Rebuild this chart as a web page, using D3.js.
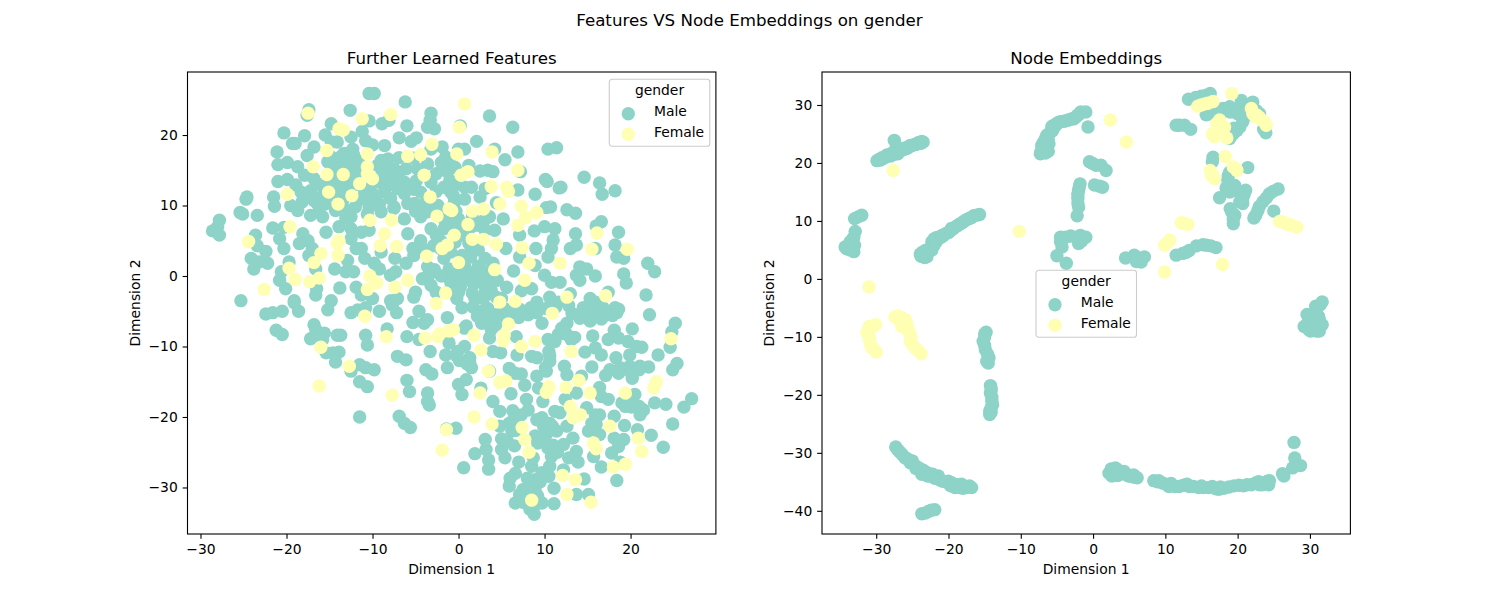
<!DOCTYPE html>
<html><head><meta charset="utf-8">
<script src="https://cdn.jsdelivr.net/npm/d3@7"></script>
<style>html,body{margin:0;background:#fff}svg{display:block}text{font-family:"DejaVu Sans",sans-serif;fill:#000}</style>
</head><body><svg id="c" width="1500" height="600"></svg>
<script>
const figureTitle="Features VS Node Embeddings on gender";
const panelTitles=["Further Learned Features","Node Embeddings"];
const legendTitle="gender";
const categories=["Male","Female"];
const colors=["#8dd3c7","#ffffb3"];
const xLabel="Dimension 1", yLabel="Dimension 2";
const leftXTicks=[-30,-20,-10,0,10,20];
const leftYTicks=[-30,-20,-10,0,10,20];
const rightXTicks=[-30,-20,-10,0,10,20,30];
const rightYTicks=[-40,-30,-20,-10,0,10,20,30];

const leftMale=[[-10.4,25.9],[-9.8,25.9],[-6.2,24.7],[-12.6,23.5],[-17.4,23.6],[-17.6,22.8],[-3.2,23.1],[-3.3,22.1],[-2.8,20.9],[-3.6,21.1],[-10.4,22],[-8.9,21.6],[-8.1,22.1],[-14.8,21.6],[-6,21.3],[-20.3,20.3],[-17.9,19.9],[-15.5,20],[-11.2,20.5],[-19.3,18.8],[-19,18.8],[-6.9,19.6],[-5.5,19.1],[-4.9,19.6],[-12.5,19.7],[-14.1,19],[-14.8,19],[-10.8,19.2],[-10,18.6],[-8.6,18.5],[-16.8,18.3],[-21.1,17.6],[-12.3,18],[-13.3,17.4],[-17.6,17.1],[-3.2,18],[-1.9,18.3],[-1.5,16.9],
[-21,15.8],[-19.9,16.1],[-18.7,15.5],[-21,13.4],[-19.9,13.7],[-18.9,12.9],[-17.9,14.3],[-18.3,11.9],[-16.8,13.8],[-17.2,12.1],[-19.5,10],[-18.7,9.3],[-17.2,8.6],[-16.2,9.8],[-15.8,8.4],[-14.3,9.3],[-12.5,8.4],[-12.5,6.7],[-12.5,5.3],[-13.9,7],[-15.4,6.2],[-10.6,8.8],[-10.4,6.5],[-11.3,6.2],[-9,9.1],[-7.5,9.8],[-5.9,10.3],[-6.3,8.1],[-5.9,6],[-4.4,8.4],[-3.6,9.1],[-4.4,5],[-2.6,5.8],[-1.7,6.7],[-3.2,6.7],
[-14.4,16.2],[-13.3,16.2],[-14.8,14.8],[-13.7,15.2],[-12.5,16.2],[-14.3,13.3],[-12.9,12.9],[-16,12.9],[-15.2,16.2],[-11.7,14.8],[-12.1,12.9],[-11,11.4],[-10.4,10.7],[-11.7,10.7],[-13.3,11],[-14.4,11.4],[-16,11.2],[-16.8,10.7],[-9.2,13.3],[-8.6,11.9],[-7.9,11],[-7.5,9.6],[-9.4,15.7],[-8.2,16.6],[-7.5,15.2],[-6.3,13.3],[-6.1,15.2],[-7.1,12.4],[-6.3,11.7],[-5.1,10.3],[-4.4,11.9],[-3.2,13.3],[-2.6,14.5],[-1.3,14.8],[-1.7,12.6],[-0.9,11.9],[-3.6,15.9],[-4.8,15.2],[-1.5,9.3],[-1.7,8.1],
[-24.6,11.2],[-24.7,10.9],[-21.5,11.2],[-21.4,9.9],[-25.4,9],[-25.1,8.8],[-23.4,8.6],[-27.8,7.9],[-28.6,6.4],[-28,7],[-27.8,5.8],[-21.6,6.8],[-20.3,6.9],[-23.6,5.8],[-20.8,5.3],[-20.3,3.9],[-23.4,4.3],[-22.4,3.5],[-24.1,2.5],[-22.2,1.8],[-23.8,1],[-23.2,2],[-18.1,6],[-17.5,5],[-18.5,4.6],[-17.4,2.9],[-17,3.9],[-19.7,2],[-20.6,0.6],[-20.8,-0.6],[-20.1,-1.8],[-16.6,1],[-16.5,-1.8],[-16.6,-2.7],[-14.4,1],[-13.8,-1.7],[-19.1,-3.5],[-14.8,-3.5],[-25.3,-3.5],[-12.9,2.2],[-13.1,0.6],[-12.2,0.6],[-11.9,-1.6],[-11.3,-2.7],[-10,-3.2],[-11.3,3.9],[-11.9,3.9],[-10.9,2.5],[-9.8,1.8],[-9.2,1],[-9,3.4],[-7.4,2.5],[-6.1,1.8],[-7.9,0.1],[-7.3,0.6],[-5.3,3.9],[-5.2,2.9],[-3.6,1.3],[-4.2,-0.4],[-3.2,-1.3],[-2.6,-2.3],[-1.7,2.5],[-2.1,3.9],[-1.1,1],[-5,-2.3],[-5.2,-3],[-7.9,-3.5],[-7.1,-3.2],[-0.9,-0.9],
[3.6,22.7],[6.3,21.1],[0.2,21.3],[2.1,19.1],[4.2,18],[0.7,18],[0,18],[6.9,17.6],[5.4,16.5],[10.4,18],[11.4,18.2],[1.2,15.7],[2.5,14.9],[3.4,15],[4,14.8],[7.2,14.8],[10.1,13.7],[10.3,13.4],[14.6,14],[11.7,12.5],[11.9,12.6],[16.4,13.2],[16.7,11.6],[18.2,12.1],[8.9,11.6],[6.9,12.2],[0.7,12.6],[1.5,12.6],[3.1,12.4],[2.5,11.2],[0.7,10.9],[4.4,10.4],[-0.4,12.9],[-0.6,11.4],[10.2,9.7],[10.7,9.8],[12.6,9.4],[13.6,8.9],[16.6,7.7],[16,7.1],[18.6,6.2],[13.6,6],[11.2,6.7],[10,7],[8.8,6.4],[7.1,5.8],[11,5.1],[10.8,3.9],[10.4,2.7],[9,3.9],[5.5,3.9],[13,3.9],[13.7,4.4],[15.9,3.9],[18.2,4.4],[18.4,2.7],[19.2,2.5],[22,1.8],[22.8,0.6],[19.2,0.3],[19.5,-1],[21.8,-2.7],[14.1,1.3],[14.9,1],[13.7,0.1],[15.9,0],[14.1,-0.6],[8.9,1.5],[10,0.1],[10.8,-0.9],[11.8,-0.9],[7.1,2.7],[6.4,0.7],[5.6,-1.6],[8.5,-1.8],[7.3,-2.1],[10.6,-3],[11.6,-3.7],[13,-2.5],[15.3,-3.2],[17.4,-2.3],[15.9,-3.7],[9.1,-3.7],
[5.2,8.1],[3.6,8.4],[1.5,7],[0,8.1],[4.2,6.5],[3.1,6.5],[2.3,7.2],[0.5,5.8],[-0.4,4.8],[1.5,3.7],[0.4,2.9],[2.3,3.7],[3.1,2.5],[4,1.8],[1.1,0.6],[2.1,0.6],[3.1,0.6],[3.8,0.1],[1.7,-1.1],[2.5,-0.9],[0.2,-1.6],[-0.6,-0.9],[3.8,-2],[3.1,-2.3],[1.9,-3.2],[2.9,-3.2],[5,-3.2],[-0.2,-3.2],
[-22.4,-5.4],[-21.6,-5.2],[-20.5,-5],[-18.6,-5],[-19.1,-3.8],[-15.2,-4.8],[-21.2,-7.7],[-20.5,-8.3],[-16.8,-6.9],[-16.6,-7.6],[-15.6,-8.1],[-15.8,-9],[-17.2,-8.9],[-14.1,-8.4],[-13.7,-8.4],[-15.4,-10.9],[-13.9,-10.8],[-14.6,-10.9],[-14.3,-12.2],[-12.5,-5.2],[-11.7,-4.8],[-10.8,-4.5],[-11,-5.2],[-9.2,-5],[-7.2,-5.2],[-7.7,-4.1],[-10.8,-8.4],[-10.6,-9.8],[-8.3,-7.5],[-6,-8.6],[-4.6,-5],[-5.3,-6.6],[-4,-6.7],[-3.6,-6.2],[-1.3,-5.9],[-4.6,-9],[-3.3,-10.7],[-1.1,-9.5],[-1.5,-11.2],[-7.1,-11.4],[-6.1,-11.9],[-11.5,-12.6],[-10.8,-13],[-9.8,-13.3],[-12.5,-13.5],[-11.5,-15],[-10.6,-15.7],[-6,-14.8],[-5.7,-16.4],[-3.8,-13.3],[-3.1,-13.9],[-1.3,-13],[-3.6,-16.6],[-3.4,-18.3],[-3.6,-17.8],[-11.5,-20],[-6.9,-19.9],[-6.3,-20.9],[-5.6,-21.5],[-1.4,-21.7],
[22.2,-5.5],[25.2,-6.7],[24.8,-7.9],[24.6,-10.1],[20.2,-7.5],[23.2,-11.2],[25.4,-12.4],[24.9,-13.3],[27.1,-17.4],[26.2,-18.6],[22.8,-18],[24.1,-18.2],[24.9,-21],[22.4,-22.6],[23.8,-24.3],[18.2,-4.5],[18.6,-4.7],[17.2,-5.5],[16.2,-5.7],[15.3,-6.4],[14.1,-6],[14.5,-4.5],[15.9,-4.3],[12.6,-6.7],[12,-7.4],[11.6,-8.3],[12.6,-8.3],[13.5,-8.7],[10.4,-9],[9.7,-6.7],[9.1,-5.2],[15.6,-8.5],[18.1,-7.7],[17.4,-9],[18.6,-8.8],[19.7,-9.3],[20.7,-10],[21.3,-10.1],[14.7,-10.8],[15.9,-10.2],[16.6,-11.2],[19.9,-11.2],[18.3,-11.6],[15.5,-12.9],[22.1,-12.9],[21.1,-12.8],[19.9,-12.8],[18.8,-13],[17.6,-13.3],[17.1,-14.1],[20.2,-14.5],[10.5,-10.7],[10.6,-12.1],[10.2,-13.5],[12.3,-12.8],[12.6,-14],[14.3,-14.2],[9.1,-14.2],[9.3,-15.9],[8.5,-11.4],[9.1,-11.6],[6.7,-8.6],[6.8,-11.2],[4.9,-10.9],[4,-10.7],[5.9,-13.1],[7.3,-13.9],[6.6,-13.8],[7.7,-15.5],[6.1,-16.7],[9.8,-17.8],[12.4,-17.5],[13.7,-16.6],[16.4,-15.8],[16.6,-17.1],[17.4,-17.5],[19,-18],[20.5,-16.8],[20.3,-18],[21.5,-19],[21.1,-19.7],[14.9,-18.7],[16.4,-19.7],[15.9,-19.7],[18.1,-19.9],[15.5,-20.9],[15.1,-22],[16.4,-22.5],[19.3,-21.2],[20.8,-21.8],[18.1,-23],[19.2,-23.2],[18.6,-24.2],[17.8,-25.1],[15.7,-25.6],[16.6,-27.1],[18.8,-26.4],[18.4,-29],[13.3,-23],[12.2,-23.9],[13.7,-24.9],[12.8,-25.8],[13.9,-26.4],[14.6,-28.8],[12.2,-27.5],[11.1,-30.1],[11.1,-32.3],[13.7,-31],[15.1,-31],[0.7,-7.4],[0.9,-7.1],[2.7,-6.7],[3.6,-8.8],[3.8,-7.6],[4.2,-5.5],[5.8,-5.7],[7,-5.9],[8.1,-5.5],[2.5,-5],[0.4,-4.5],[0.7,-10],[1.3,-11.6],[1.5,-13],[-0.2,-11.4],[0.9,-14.7],[0,-15.4],[0.4,-16.8],[2.6,-15.9],[3.6,-13.5],[4,-17.8],[4.8,-19.2],[7.9,-17.5],[8.1,-19],[7.3,-19.7],[6.3,-19.1],[6.4,-20.4],[6.2,-22],[4.8,-21.3],[5,-23.1],[5,-24.6],[5.4,-25.8],[3.1,-23.2],[3.2,-24.6],[1.9,-25.2],[3.5,-26.1],[3.5,-27.4],[0.6,-27.2],[-0.3,-21.6],[7,-26.4],[6.6,-28],[6,-28.7],[5.9,-29.8],[8.5,-27],[8.7,-25.8],[9.7,-27.9],[10.6,-27],[10.8,-25.6],[10.4,-24.4],[8.9,-28.9],[8.9,-30.3],[7.5,-30.3],[7.1,-31],[8.5,-30.8],[6.6,-32.2],[9.7,-32.2],[8.3,-33.1],[8.8,-33.8],[9.7,-20.1],[9.1,-20.4],[11.2,-19.2],[11.8,-19.4],[10.6,-20.9],[11.4,-22],[10.2,-22.5],[8.9,-22.7],[9.2,-23.7],[12.6,-21.3],
[-17.5,11.2],[-18.2,10.5],[-16.5,10.4],[-15.5,10.2],[-15,12.7],[-13.8,12.2],[-13.7,13.6],[-12.2,14],[-13,15.5],[-14.8,16.9],[-13.6,17],[-12.2,17.2],[-11.6,16.3],[-11,12.4],[-10.2,12],[-9.6,11.4],[-9.2,10.2],[-10.4,9.8],[-12,9.8],[-12.9,9.3],[-13.1,8.2],[-9,16.4],[-8.1,15],[-8.9,14.5],[-7.8,13.8],[-8.3,12.8],[-7,14.2],[-6.9,16.8],[-5.2,16.7],[-4.9,13.5],[-5.2,12.3],[-5,9.2],[-4,10.2],[-3.2,10.5],[-2.4,10],[-2.6,12],[-2,16.1],[-1,16],[-0.4,15.4],[-1,13.6],[-0.5,10.4],[-0.3,9.2],[-0.9,7.5],[-2,4.9],[-2.9,4.3],[-3.9,3.7],[-0.9,3.4],[-1,-2],[0,-2.3],[-0.2,0.2],[-1.1,-0.1],[-3.4,0.2],[-2.8,0.9],[-2,0],
[0.6,7],[1.6,8.3],[3,7.9],[-0.2,6.6],[1.2,4.6],[1.4,2.7],[2.3,1.4],[0.7,1.4],[3.4,-0.8],[4.5,-0.6],[0.9,-0.4],[1.6,-2.4],[4.4,-3],[-0.3,-2.3],
[8.4,-4.5],[7.1,-4.7],[5.3,-4.6],[3.4,-4.6],[1.7,-4.4],[3.5,-6.1],[2.2,-5.7],[10.2,-4.6],[11.3,-4.4],[13.2,-5.3],[12.8,-4.2],[16.8,-4.5],[17.9,-5.6],[5.9,-20.9],[6.7,-21.9],[5.7,-23.5],[6.5,-24.1],[9.9,-21.4],[10,-23.4],[11,-24],[11.5,-25],[10.5,-28.4],[8,-28.7],[9.5,-29.2],[8,-30],[9.2,-31.2],[7.5,-32.1],[8.9,-32.5],[19.9,-13.5],[21,-13.3],[18.6,-13.8],[20.1,-18.6],[19.4,-18.5],[21,-18.5],[15.7,-21.4],[16,-21],[10.9,-21.3],[13.1,-9],[11.2,-9.3],[12.2,-7.9],[10.6,-11.3],[10.1,-13],[3,-6],[4.3,-7],[4.9,-6.2],[6,-5.2],[7.1,-5.1],[14.9,-5.3],[16.6,-6.1],[18.4,-5.2],[0.1,-12],[1,-12.5],[1.3,-12.2],[-0.1,-10.7]];

const leftFemale=[[-17.5,23.1],[-13.9,20.9],[-13.4,20.7],[-11.2,22.3],[-7.9,22.9],[-15.3,17.8],[-10.6,17.3],[-16.9,15.5],[-15.3,14.4],[-13.4,14.4],[-10.6,15.5],[-10.6,14.5],[-10,13.8],[-11.5,13.1],[-19.9,11.6],[-15.1,11.9],[-12.4,11.4],[-14,10.2],[-10.3,7.9],[-7.8,7.9],[-19.6,7],[-24.4,4.9],[-8.6,6],[-9.1,4.3],[-7.2,4.2],[-13.9,5],[-14.1,4.6],[-14,2.9],[-16,3.2],[-16.8,1.9],[-19.7,1.1],[-19,-0.5],[-17.3,-0.8],[-16.2,-0.3],[-22.6,-1.9],[-10.3,0],[-9.5,-1],[-10.6,-1.9],[-7.4,-1.6],[-5.9,-0.6],[-3.7,2.8],[-5.9,17],[-4.4,17.2],[-3.1,18.7],[-4,14.3],[-3.3,11.2],[-2.5,8.5],[-1.1,9.5],[-1.9,3.9],[-1.3,4.4],[-1.5,-2.4],[-2.6,-3.9],
[0.7,24.4],[0.1,21.1],[3.9,17.6],[-0.2,17.3],[6.9,15],[1.1,14.8],[0.3,14.3],[3.8,12.7],[5.6,12.6],[5.8,12],[4.8,10.2],[7.3,9.9],[9.1,9],[7.8,8.3],[6.9,7.2],[1.6,9.2],[2.9,9.5],[1.1,7.3],[1.6,5.2],[2.9,5.2],[4.4,4.5],[-0.5,5.8],[-0.8,9.3],[7.4,4],[8.2,1.8],[11.8,1.8],[0,1.9],[4.2,0.9],[7.7,-0.6],[16.1,6.1],[15.5,3.8],[19.6,3.8],[12.6,-3],[17.1,-2.8],[4.8,-3.7],[6.6,-3.6],
[-10.9,-5.7],[-16,-10.1],[-8.4,-8.6],[-12.7,-12.8],[-16.2,-15.6],[-7.7,-16.9],[-3.9,-8.8],[-2.4,-8.6],[-2.2,-8.2],[-1.1,-7.8],[-1.4,-21.8],[-1.9,-24.7],
[10.9,-5.3],[5.8,-6.8],[-0.6,-7.6],[1.8,-8.4],[5.3,-8.4],[5.2,-9.2],[8.9,-9.3],[7.3,-10],[2.6,-10.5],[13.1,-10.7],[24.7,-8.9],[3.5,-13.5],[4.8,-15.1],[5.5,-14.9],[2.5,-16.6],[1.8,-20],[3.9,-21],[10.2,-16.5],[10.5,-15.7],[12.5,-15.8],[14,-14.8],[15.3,-16.6],[19.4,-16.6],[23,-15],[22.7,-15.9],[13,-18.5],[14.2,-19.7],[13.3,-20.1],[17.6,-21.3],[20.9,-23],[21.3,-24.9],[15.7,-23.7],[16,-24.5],[7.4,-21.5],[7.7,-23.2],[8.2,-25],[18,-27.1],[19.4,-26.7],[12.1,-28.3],[13.6,-28.9],[12.6,-31],[15.4,-32.1],[8.5,-31.8]];

const rightMale=[[-29.6,20.6],[-29.2,20.9],[-28.7,21],[-28.3,21.4],[-27.7,21.8],[-27.1,22],[-26.5,22.2],[-26,22.6],[-25.5,22.7],[-25,23],[-24.5,23.2],[-24,23.4],[-23.5,23.6],[-23.8,23.4],[-27.5,23.9],[-27.2,22.9],[-29.9,20.4],[-29.4,20.5],[-29,20.8],[-28.5,21.4],[-28,21.2],[-27.5,21.5],[-27,21.6],[-26.7,22.1],[-26.2,22.3],[-25.8,22.5],[-25.3,23],[-24.7,23.2],[-24.2,23.5],[-23.7,23.7],
[-32,11],[-33,10.4],[-32.5,10.7],[-32.9,8.2],[-33.1,7.2],[-34.1,5.2],[-33.1,4.7],[-33.8,5.8],[-33.6,6.4],[-33.6,5],[-33.3,6.7],[-34.3,5.5],[-33,5.8],
[-23.4,4.1],[-23,3.8],[-22.7,4.9],[-22.3,6.4],[-21.4,7.2],[-20.7,7.5],[-19.3,8.7],[-18.4,9.5],[-17.2,10.4],[-15.7,11.1],[-16.5,10.9],[-23.9,4.3],[-23.2,4.9],[-22,5.8],[-22,6.9],[-21,7.2],[-20,8],[-18.9,9.1],[-17.8,10],[-17,10.5],[-16.1,11],[-23.6,4.6],[-23.8,3.9],[-23.3,3.7],[-22.9,4.4],[-22.5,5.4],[-22.3,5],[-21.8,6.3],[-21.6,6.6],[-21.7,7.1],[-20.9,7.5],[-20.4,7.8],[-19.7,8.3],[-19.6,8.7],[-18.6,9.3],[-18.1,9.7],[-17.5,10.2],[-16.8,10.6],
[-7.3,21.6],[-6.8,21.9],[-7.1,23],[-6.6,24.2],[-6.1,23.3],[-5.4,26.5],[-5.9,25.3],[-4.5,27.1],[-3.4,27.4],[-2.4,27.9],[-1.7,28.8],[-6.2,22],[-6.4,24.8],[-5,26.8],[-4,27.2],[-3,27.6],[-2,28.3],[-6.9,23.5],[-7,22.4],[-1,28.8],[-0.7,26.2],[-7.2,22],[-6.6,21.7],[-6.5,22.6],[-6.7,23.2],[-6.2,24],[-6.1,25],[-5.6,25.6],[-5.7,26.3],[-5.2,26.4],[-4.8,27],[-3.7,27.3],[-2.7,27.6],[-2.2,28.2],
[-1.8,16.4],[-2,15.3],[-2.1,13.9],[-2,12.4],[-2.2,10.9],[-1.9,15.9],[-2.1,14.6],[-2.1,13.1],
[-4.5,7.2],[-3.1,7.4],[-1.75,7.5],[-2,6.1],[-4.3,5.5],[-5,4],[-3.7,2.7],[-3.8,7.2],[-2.4,7.2],[-1,7.2],[-4.5,6.4],[-1.6,6.5],
[0.4,19.6],[-0.5,20.2],[1.1,19.6],[1.8,18.7],[-0.05,19.9],[0.9,16],[0.2,16.2],[1.3,15.8],
[4.5,3.6],[6.4,3.6],[5.7,4.1],[6.65,2.9],[6,3],[7.1,3.8],
[11.5,4.1],[12.4,4.4],[13.3,4.9],[14.3,5.7],[15.2,5.9],[16.3,5.7],[17,5.4],[12.9,4.6],[15.7,5.8],
[11.95,26.5],[12.65,26.5],[13.5,25.8],[11.5,26.5],[13.2,31],[14.96,31.5],[16.2,32],[15.65,31.7],
[15.65,28.3],[16.8,29.1],[17.96,29.4],[18.9,29.7],[20.3,29.1],[20.5,30.8],[22.1,30.5],[23.04,28.5],[20.7,27.1],[20.3,26.2],[19.35,25],[18.9,24.2],[23.9,25.2],[21.65,28.5],
[16.6,21],[16.5,20.2],[21.4,19.2],[18.9,18.4],[18.65,17],[18.9,15.9],[19.6,16.1],[18.9,15],[17.5,14],[21.1,15.3],[20.7,13.9],[20.7,13],[18.97,12.1],[19.6,11],[19.4,9.5],[25.6,15.5],[24.4,14.7],[23.5,13.3],[22.8,11.8],[22.25,10.5],[25,11.7],[24.9,15.1],
[16.2,28.5],[17.2,28.7],[18.3,29],[19.5,29.3],[19,28.8],[20,28.5],[21,28.5],[21.8,29.5],[22.6,29],[20.9,27.8],[19.9,25.6],[19.5,26],[14.2,31.3],[15.4,31],[23.6,25.8],[17.4,28.2],[19.4,15.2],[18.4,15.7],[20.9,14.6],[20.3,13.3],[19.2,11.5],[19.4,10.3],[24,14],[23,12.5],[22.5,11],[18.7,17.8],[18.9,16.5],
[31.7,-3.96],[30.8,-4.7],[29.6,-6.15],[29.2,-8.2],[31.3,-8.2],[31.7,-7.9],[30.1,-9],[31.3,-9],[30.3,-7.3],[31.3,-7],[30.6,-5.9],[30.5,-8.4],[30.7,-7.7],[29.7,-7.6],[29.9,-8.8],[30.9,-9],[31,-8.3],[31.2,-6.5],[30.7,-7],[30,-6.5],[30.9,-5.4],[31.4,-4.5],
[-14.8,-9.2],[-15.2,-10.75],[-14.9,-12.2],[-14.4,-13.6],[-14.7,-14.2],[-15,-10],[-15,-11.5],[-15,-9.5],[-14.6,-13],[-14.5,-14.5],
[-14.1,-18.8],[-14.2,-19.7],[-14,-21.1],[-14.1,-22.2],[-14.3,-23.4],[-14,-20.4],[-14.1,-19.3],[-14.2,-18.4],[-13.9,-21.7],[-14.3,-22.8],[-14.1,-23],
[-27.3,-29],[-26.4,-30.3],[-25.3,-31.7],[-24.1,-32.6],[-22.8,-33.5],[-21.4,-34],[-20,-34.9],[-18.6,-35.5],[-17.5,-36],[-16.8,-36],[-19.1,-36],[-23.7,-33.7],[-22.5,-34],[-26,-30.9],[-27,-29.5],[-26.7,-29.9],[-25.7,-31],[-25,-31.4],[-24.6,-32.2],[-24.5,-32.7],[-23.5,-33],[-23.2,-33.3],[-22.9,-34],[-22.2,-33.7],[-21.9,-34.4],[-21.2,-34.7],[-20.8,-34.9],[-20.4,-35],[-19.5,-35.2],[-19.7,-35.7],[-18.2,-35.4],[-18,-36.1],[-18.5,-36],[-17.1,-35.7],
[-23.7,-40.5],[-22.8,-40.1],[-21.9,-39.8],[-23.2,-40.4],[-22.4,-39.9],
[2.9,-33.2],[3.1,-32.6],[2.2,-33.5],[4,-33.5],[5.2,-34],[6.1,-34.3],[2.6,-34],[4.6,-33.8],[2.5,-32.8],[3.5,-33],[3.4,-33.9],[4.3,-33.2],[4.9,-34],[5.7,-34.2],[5.6,-33.8],
[8.4,-34.8],[9.6,-35.2],[10.5,-35.8],[11.9,-35.8],[13.3,-35.8],[14.6,-36],[16,-36],[17.4,-36.3],[18.8,-35.9],[20.2,-35.6],[21.3,-35.5],[22.5,-35.2],[23.4,-35.5],[24.3,-35.5],[24.1,-34.9],[17,-36.2],[15.3,-36],[8.9,-35],[9.1,-34.8],[10.1,-35.4],[10.8,-35.3],[11.3,-35.8],[12.5,-35.6],[13,-35.4],[13.9,-35.8],[15,-35.7],[16.5,-35.8],[17.6,-35.9],[18.1,-36.1],[19.5,-35.7],[20.8,-35.7],[21.9,-35.5],[22.9,-35],[23.9,-35.2],[24.4,-34.8],[23,-35.5],
[26.2,-33.6],[26.4,-34],[27.6,-32.6],[27.9,-30.9],[28.7,-32.2],[27.8,-28.2]];

const rightFemale=[[-27.65,18.7],[-10.2,8.2],[-31,-1.4],
[-30.1,-7.9],[-31,-8.7],[-31,-9.9],[-30.8,-11.3],[-30,-12.6],[-30.6,-8.3],[-31.3,-9.3],[-30.6,-11.9],[-30.9,-10.6],[-30.4,-12],[-31,-8.2],
[-27.4,-6.55],[-26.45,-6.7],[-25.8,-7.6],[-26.45,-8.2],[-25.4,-9.3],[-25.3,-10.75],[-24.6,-11.9],[-23.8,-12.9],[-26.9,-7],[-26,-7],[-27,-6.4],[-25.6,-8.5],[-25.2,-10],[-25,-11.3],[-24.2,-12.4],[-26.2,-7.4],
[2.4,27.4],[4.6,23.6],[14.96,30],[15.9,30.3],[16.6,30.6],[14.5,29.8],[19.2,32],[21.9,29.4],[22.1,28.5],[23,27.9],[23.7,27.1],[23.96,26.5],[22.6,28.3],[17.5,27.4],[17.4,26.2],[18.2,26.2],[16.5,25],[16.8,24.5],[18.5,24.3],[18.3,21.1],[19.4,19.3],[19.9,18.7],[16.2,18.7],[16.8,17.3],[12.2,9.7],[13.1,9.4],[10.6,6.7],[9.9,5.8],[9.9,1.2],[17.9,2.5],[25.8,9.9],[26.7,9.5],[27.4,9.3],[28.2,8.9],[15.5,30.2],[22.4,28],[23.3,27.4],[17.1,26.8],[26.3,9.8],[27,9.4],[19.8,18.9],[16.5,18],[16.4,17.8],[10.3,6.3],[12.6,9.6]];

const svg=d3.select("#c");
const R=6.7;
const panels=[
 {x0:187.5,x1:715.9,xd:[-31.51,29.92],yd:[-36.6,28.94],xt:leftXTicks,yt:leftYTicks,m:leftMale,f:leftFemale,title:panelTitles[0],leg:[609.3,79.3]},
 {x0:822,x1:1350.4,xd:[-37.5,35.6],yd:[-44,35.69],xt:rightXTicks,yt:rightYTicks,m:rightMale,f:rightFemale,title:panelTitles[1],leg:[1036,270.2]}
];
const plotTop=72,plotBot=534;
svg.append("text").attr("x",749.5).attr("y",25.5).attr("text-anchor","middle").style("font-size","16.67px").text(figureTitle);
panels.forEach(p=>{
 const x=d3.scaleLinear().domain(p.xd).range([p.x0,p.x1]);
 const y=d3.scaleLinear().domain(p.yd).range([plotBot,plotTop]);
 const g=svg.append("g");
 const clip="clip"+Math.round(p.x0);
 g.append("clipPath").attr("id",clip).append("rect").attr("x",p.x0).attr("y",plotTop).attr("width",p.x1-p.x0).attr("height",plotBot-plotTop);
 const marks=g.append("g").attr("clip-path",`url(#${clip})`);
 [[p.m,colors[0]],[p.f,colors[1]]].forEach(([d,c])=>{
  marks.append("g").selectAll("circle").data(d).join("circle")
   .attr("cx",v=>x(v[0])).attr("cy",v=>y(v[1])).attr("r",R).attr("fill",c);
 });
 const ax=d3.axisBottom(x).tickValues(p.xt).tickSize(4.86).tickPadding(4.9).tickSizeOuter(0).tickFormat(d=>String(d).replace("-","\u2212"));
 const ay=d3.axisLeft(y).tickValues(p.yt).tickSize(4.86).tickPadding(4.9).tickSizeOuter(0).tickFormat(d=>String(d).replace("-","\u2212"));
 const gx=g.append("g").attr("transform",`translate(0,${plotBot})`).call(ax);
 const gy=g.append("g").attr("transform",`translate(${p.x0},0)`).call(ay);
 [gx,gy].forEach(a=>{a.select(".domain").remove();a.selectAll("line").attr("stroke","#000").attr("stroke-width",1.1);a.selectAll("text").style("font-size","13.89px").style("font-family",'"DejaVu Sans"').attr("fill","#000");});
 g.append("rect").attr("x",p.x0).attr("y",plotTop).attr("width",p.x1-p.x0).attr("height",plotBot-plotTop).attr("fill","none").attr("stroke","#000").attr("stroke-width",1.1);
 const cx=(p.x0+p.x1)/2;
 g.append("text").attr("x",cx).attr("y",64).attr("text-anchor","middle").style("font-size","16.67px").text(p.title);
 g.append("text").attr("x",cx).attr("y",574).attr("text-anchor","middle").style("font-size","13.89px").text(xLabel);
 g.append("text").attr("transform",`translate(${p.x0-48},${(plotTop+plotBot)/2}) rotate(-90)`).attr("text-anchor","middle").style("font-size","13.89px").text(yLabel);
 const [lx,ly]=p.leg;
 const L=g.append("g").attr("transform",`translate(${lx},${ly})`);
 L.append("rect").attr("width",100.5).attr("height",67).attr("rx",2.8).attr("fill","#fff").attr("fill-opacity",0.8).attr("stroke","#ccc").attr("stroke-width",1.1);
 L.append("text").attr("x",50.2).attr("y",16).attr("text-anchor","middle").style("font-size","13.89px").text(legendTitle);
 categories.forEach((c,i)=>{
  L.append("circle").attr("cx",19).attr("cy",34.5+i*20.5).attr("r",R).attr("fill",colors[i]);
  L.append("text").attr("x",44.7).attr("y",37+i*20.5).style("font-size","13.89px").text(c);
 });
});
</script></body></html>
